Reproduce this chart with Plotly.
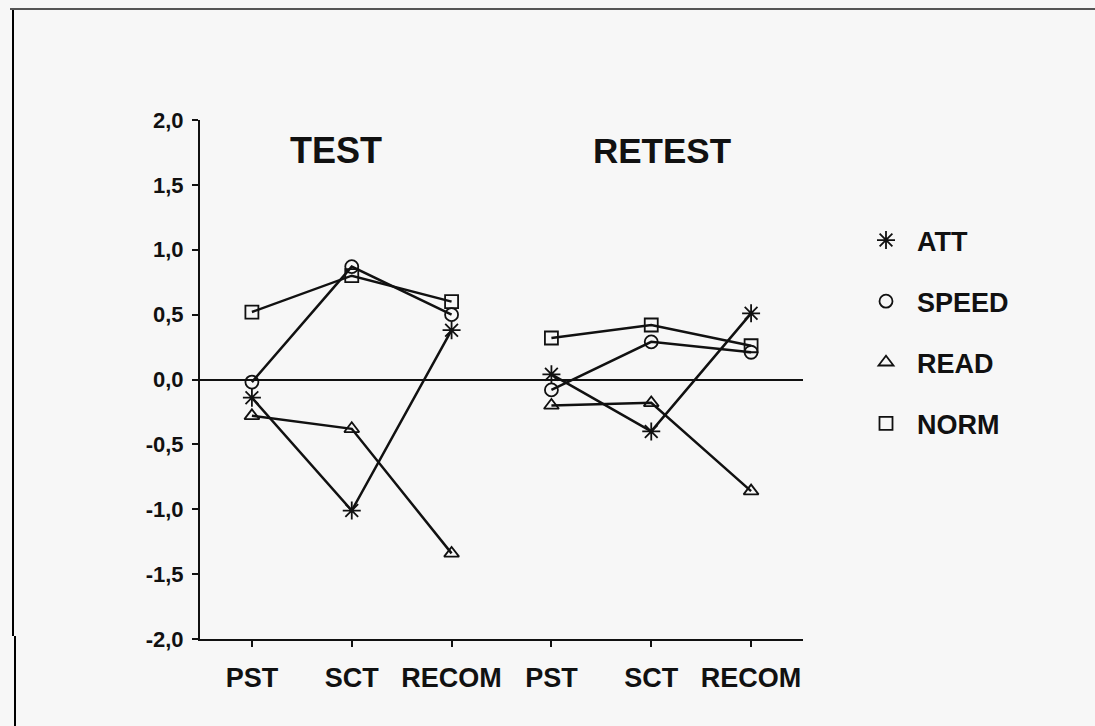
import plotly.graph_objects as go

# ---- data ----
categories = ["PST", "SCT", "RECOM", "PST", "SCT", "RECOM"]
panels = ["TEST", "RETEST"]
series_names = ["ATT", "SPEED", "READ", "NORM"]
att_test = [-0.14, -1.01, 0.38]
att_retest = [0.04, -0.40, 0.51]
speed_test = [-0.02, 0.87, 0.50]
speed_retest = [-0.08, 0.29, 0.21]
read_test = [-0.28, -0.38, -1.34]
read_retest = [-0.20, -0.18, -0.86]
norm_test = [0.52, 0.80, 0.60]
norm_retest = [0.32, 0.42, 0.26]
y_tickvals = [-2.0, -1.5, -1.0, -0.5, 0.0, 0.5, 1.0, 1.5, 2.0]
y_ticktext = ["-2,0", "-1,5", "-1,0", "-0,5", "0,0", "0,5", "1,0", "1,5", "2,0"]

symbols = {"ATT": "asterisk-open", "SPEED": "circle-open",
           "READ": "triangle-up-open", "NORM": "square-open"}
sizes = {"ATT": 15, "SPEED": 13, "READ": 13, "NORM": 13}
values = {
    "ATT": (att_test, att_retest),
    "SPEED": (speed_test, speed_retest),
    "READ": (read_test, read_retest),
    "NORM": (norm_test, norm_retest),
}

INK = "#111111"
FONT = "Liberation Sans, Arial, Helvetica, sans-serif"
W, H = 1095, 726
L, R, T, B = 200, 803, 120, 639

fig = go.Figure()
idx = list(range(len(categories)))
for name in series_names:
    t, r = values[name]
    for xs, ys in ((idx[:3], t), (idx[3:], r)):
        fig.add_trace(go.Scatter(
            x=xs, y=ys, mode="lines+markers", showlegend=False,
            line=dict(color=INK, width=2.5),
            marker=dict(symbol=symbols[name], size=sizes[name], color=INK,
                        line=dict(color=INK, width=1.8)),
        ))
    # legend entry (marker only)
    fig.add_trace(go.Scatter(
        x=[None], y=[None], mode="markers", name=name, legendgroup=name,
        marker=dict(symbol=symbols[name], size=sizes[name], color=INK,
                    line=dict(color=INK, width=1.8)),
    ))

def px_x(px):
    return (px - L) / (R - L)

def px_y(py):
    return (B - py) / (B - T)

fig.add_annotation(
    x=px_x(336), xref="paper", y=px_y(150), yref="paper", text=panels[0],
    showarrow=False, xanchor="center", yanchor="middle",
    font=dict(family=FONT, size=36, color=INK, weight="bold"),
)
fig.add_annotation(
    x=px_x(591), xref="paper", y=px_y(150), yref="paper", text=panels[1],
    showarrow=False, xanchor="left", yanchor="middle",
    font=dict(family=FONT, size=35, color=INK, weight="bold"),
)

# scan border artefacts
fig.add_shape(type="line", xref="paper", yref="paper",
              x0=px_x(13), x1=px_x(13), y0=px_y(8), y1=px_y(636),
              line=dict(color="#000000", width=2))
fig.add_shape(type="line", xref="paper", yref="paper",
              x0=px_x(15), x1=px_x(15), y0=px_y(636), y1=px_y(726),
              line=dict(color="#000000", width=2))
fig.add_shape(type="line", xref="paper", yref="paper",
              x0=px_x(10), x1=px_x(1095), y0=px_y(9), y1=px_y(9),
              line=dict(color="#555555", width=2))

fig.update_layout(
    width=W, height=H,
    margin=dict(l=L, r=W - R, t=T, b=H - B),
    paper_bgcolor="#f7f7f7", plot_bgcolor="#f7f7f7",
    font=dict(family=FONT, color=INK),
    legend=dict(
        x=px_x(855), y=px_y(216), xanchor="left", yanchor="top",
        xref="paper", yref="paper", itemwidth=52,
        bgcolor="rgba(0,0,0,0)", traceorder="grouped", tracegroupgap=23,
        font=dict(family=FONT, size=27, color=INK, weight="bold"),
    ),
    xaxis=dict(
        range=[-0.52, 5.52], tickvals=idx, ticktext=categories,
        showgrid=False, zeroline=False, showline=True, linecolor=INK, linewidth=2,
        ticks="outside", ticklen=6, tickwidth=1.5, tickcolor=INK,
        ticklabelstandoff=8,
        tickfont=dict(family=FONT, size=27, color=INK, weight="bold"),
    ),
    yaxis=dict(
        range=[-2.0, 2.0], tickvals=y_tickvals, ticktext=y_ticktext,
        showgrid=False, zeroline=True, zerolinecolor=INK, zerolinewidth=1.5,
        showline=True, linecolor=INK, linewidth=2,
        ticks="outside", ticklen=6, tickwidth=1.5, tickcolor=INK,
        ticklabelstandoff=4,
        tickfont=dict(family=FONT, size=22, color=INK, weight="bold"),
    ),
)

fig.write_html(
    "out.html",
    config={"displayModeBar": False},
    post_script="document.body.style.margin='0';document.body.style.overflow='hidden';",
)
